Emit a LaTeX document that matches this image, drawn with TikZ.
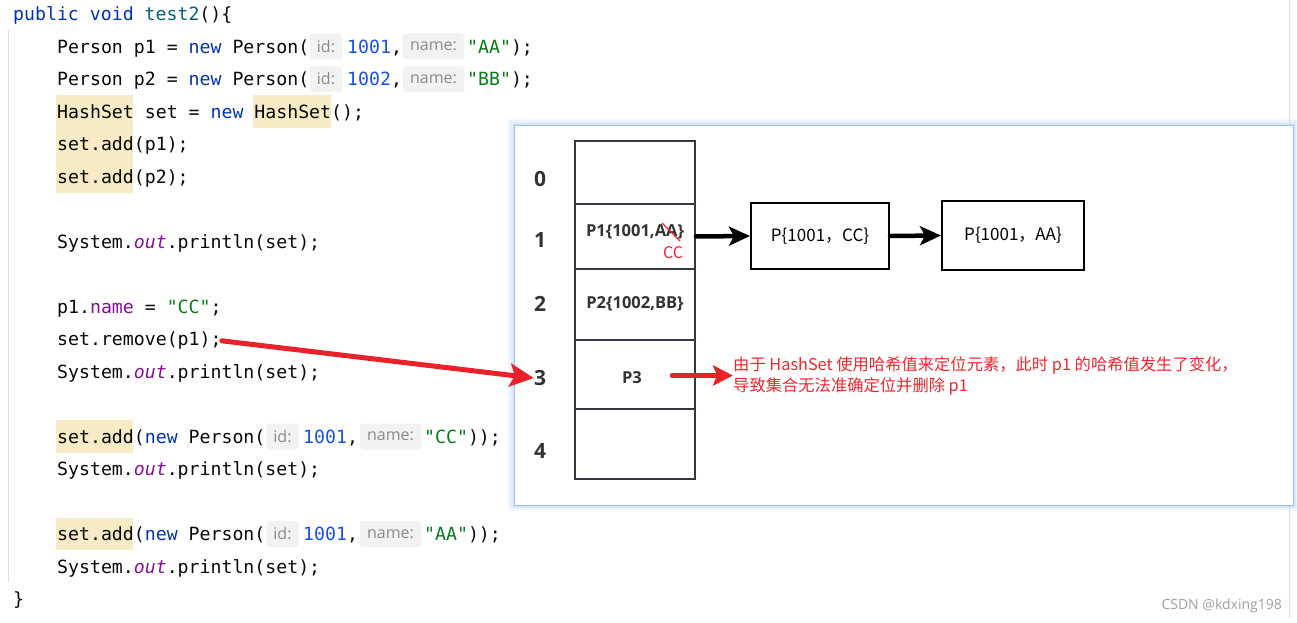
\documentclass[tikz,border=0pt]{standalone}
\usepackage{fontspec}
\setmainfont{Open Sans}
\newfontfamily\codef{DejaVu Sans Mono}
\newfontfamily\cjk{Noto Sans CJK SC}
\newfontfamily\osans{Open Sans}
\usetikzlibrary{arrows.meta}
\definecolor{kwc}{HTML}{0033B3}
\definecolor{numc}{HTML}{1750EB}
\definecolor{strc}{HTML}{067D17}
\definecolor{fldc}{HTML}{871094}
\definecolor{mthc}{HTML}{00627A}
\definecolor{txtc}{HTML}{080808}
\definecolor{hlc}{HTML}{F6EBC4}
\definecolor{chipbg}{HTML}{F2F2F2}
\definecolor{chiptx}{HTML}{8A8A8A}
\definecolor{guidec}{HTML}{DDDDDD}
\definecolor{glowc}{HTML}{9CC3F5}
\definecolor{tblc}{HTML}{333840}
\definecolor{labc}{HTML}{333333}
\definecolor{arrred}{HTML}{E8212B}
\definecolor{redtx}{HTML}{F0262E}
\definecolor{wmc}{HTML}{A0A0A0}
\newcommand\CK[1]{\textcolor{kwc}{#1}}
\newcommand\CN[1]{\textcolor{numc}{#1}}
\newcommand\CS[1]{\textcolor{strc}{#1}}
\newcommand\CF[1]{\textcolor{fldc}{#1}}
\newcommand\CM[1]{\textcolor{mthc}{#1}}
\newcommand\OUT{\CF{\itshape out}}
\tikzset{
  code/.style={anchor=base west, inner sep=0pt, text=txtc, font=\codef\fontsize{18.2}{20}\selectfont},
  chip/.style={fill=chipbg, rounded corners=3pt, minimum height=26pt, inner sep=0pt, text=chiptx, font=\osans\fontsize{16}{16}\selectfont},
  hl/.style={fill=hlc, draw=none},
  cell/.style={draw=tblc, line width=1.8pt, minimum width=120pt, inner sep=0pt},
  celltx/.style={inner sep=0pt, text=labc, font=\osans\bfseries\fontsize{16.5}{17}\selectfont},
  rowlab/.style={inner sep=0pt, text=labc, font=\osans\bfseries\fontsize{21}{21}\selectfont},
  pbox/.style={draw=black, line width=2pt, inner sep=0pt, font=\cjk\fontsize{17}{17}\selectfont},
  blackarrow/.style={draw=black, line width=4.5pt, line cap=round, -{Stealth[length=21pt,width=19pt,inset=5pt]}},
  redarrow/.style={draw=arrred, line width=5pt, line cap=round, -{Stealth[length=24pt,width=23pt,inset=5pt]}},
}
\begin{document}
\begin{tikzpicture}[x=1pt,y=-1pt]
\useasboundingbox (0,0) rectangle (1297,623);
\fill[white] (0,0) rectangle (1297,623);
% right gray guide
\draw[guidec, line width=1pt] (1289,0) -- (1289,618);
% left guide
\draw[guidec, line width=1pt] (8,30) -- (8,582);
% highlights
\fill[hlc] (56,95.25) rectangle (133,192.75);
\fill[hlc] (253,95.25) rectangle (331,127.75);
\fill[hlc] (56,420.25) rectangle (133,452.75);
\fill[hlc] (56,517.75) rectangle (133,550.25);
% code lines (baseline = 14 + 32.5 i + 6.8)
\node[code] (r0) at (13,20.8) {\CK{public} \CK{void} \CM{test2}()\{};
% row 1
\node[code] (r1a) at (57,53.3) {Person p1 = \CK{new} Person(};
\node[chip, minimum width=32pt] (r1b) at (326,46.5) {id:};
\node[code] (r1c) at (347,53.3) {\CN{1001},};
\node[chip, minimum width=61pt] (r1d) at (433.5,46.5) {name:};
\node[code] (r1e) at (467,53.3) {\CS{"AA"});};
% row 2
\node[code] (r2a) at (57,85.8) {Person p2 = \CK{new} Person(};
\node[chip, minimum width=32pt] (r2b) at (326,79) {id:};
\node[code] (r2c) at (347,85.8) {\CN{1002},};
\node[chip, minimum width=61pt] (r2d) at (433.5,79) {name:};
\node[code] (r2e) at (467,85.8) {\CS{"BB"});};
% rows 3..5
\node[code] (r3) at (57,118.3) {HashSet set = \CK{new} HashSet();};
\node[code] (r4) at (57,150.8) {set.add(p1);};
\node[code] (r5) at (57,183.3) {set.add(p2);};
\node[code] (r7) at (57,248.3) {System.\OUT.println(set);};
\node[code] (r9) at (57,313.3) {p1.\CF{name} = \CS{"CC"};};
\node[code] (r10) at (57,345.8) {set.remove(p1);};
\node[code] (r11) at (57,378.3) {System.\OUT.println(set);};
% row 13
\node[code] (r13a) at (57,443.3) {set.add(\CK{new} Person(};
\node[chip, minimum width=32pt] (r13b) at (282.5,436.5) {id:};
\node[code] (r13c) at (303,443.3) {\CN{1001},};
\node[chip, minimum width=61pt] (r13d) at (390.5,436.5) {name:};
\node[code] (r13e) at (424,443.3) {\CS{"CC"}));};
\node[code] (r14) at (57,475.8) {System.\OUT.println(set);};
% row 16
\node[code] (r16a) at (57,540.8) {set.add(\CK{new} Person(};
\node[chip, minimum width=32pt] (r16b) at (282.5,534) {id:};
\node[code] (r16c) at (303,540.8) {\CN{1001},};
\node[chip, minimum width=61pt] (r16d) at (390.5,534) {name:};
\node[code] (r16e) at (424,540.8) {\CS{"AA"}));};
\node[code] (r17) at (57,573.3) {System.\OUT.println(set);};
\node[code] (r18) at (13,605.8) {\}};
% popup with glow
\foreach \w/\o in {14/0.07,10/0.1,6/0.15,3/0.25} {
  \draw[glowc, line width=\w pt, opacity=\o] (514,125) rectangle (1293,505);
}
\fill[white] (514,125) rectangle (1293,505);
\draw[glowc, line width=1pt] (514,125) rectangle (1293,505);
% table
\node[cell, minimum height=63pt] (c0) at (635,172.5) {};
\node[cell, minimum height=65pt] (c1) at (635,236.5) {};
\node[cell, minimum height=71pt] (c2) at (635,304.5) {};
\node[cell, minimum height=69pt] (c3) at (635,374.5) {};
\node[cell, minimum height=70pt] (c4) at (635,444) {};
\node[celltx] (t1) at (635,232) {P1\{1001,AA\}};
\node[celltx] (t2) at (635,304) {P2\{1002,BB\}};
\node[celltx] (t3) at (632,378) {P3};
\draw[redtx, line width=1.3pt] (662,223) -- (680,241);
\node[inner sep=0pt, text=redtx, font=\cjk\fontsize{16}{16}\selectfont] (cc) at (673,253) {CC};
% row labels
\node[rowlab] (l0) at (540,179) {0};
\node[rowlab] (l1) at (540,240) {1};
\node[rowlab] (l2) at (540,304) {2};
\node[rowlab] (l3) at (540,378) {3};
\node[rowlab] (l4) at (540,451) {4};
% boxes
\node[pbox, minimum width=138pt, minimum height=66pt] (b1) at (820,236) {P\{1001，CC\}};
\node[pbox, minimum width=142pt, minimum height=69pt] (b2) at (1013,235.5) {P\{1001，AA\}};
\draw[blackarrow] (c1.east) -- (b1.west);
\draw[blackarrow] (b1.east) -- (b2.west);
% red text
\node[anchor=north west, inner sep=0pt, align=left, text=redtx, font=\cjk\fontsize{16.3}{21}\selectfont] (note) at (733,356)
  {由于 HashSet 使用哈希值来定位元素，此时 p1 的哈希值发生了变化，\\导致集合无法准确定位并删除 p1};
\coordinate (r2s) at (672,375.5);
\draw[redarrow, line width=4.5pt, -{Stealth[length=20pt,width=20pt,inset=4pt]}] (r2s) -- (note.west |- r2s);
\draw[redarrow] (r10.east) -- (l3.west);
% watermark
\node[anchor=east, inner sep=0pt, text=wmc, font=\osans\fontsize{14}{14}\selectfont] (wm) at (1282,606) {CSDN @kdxing198};
\end{tikzpicture}
\end{document}
